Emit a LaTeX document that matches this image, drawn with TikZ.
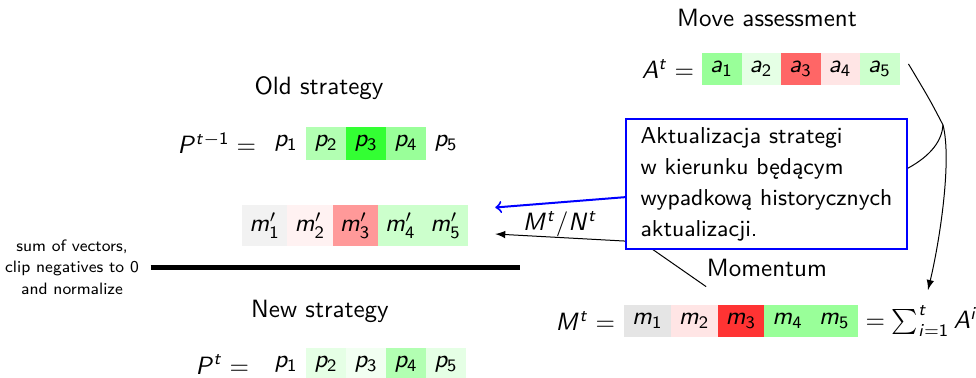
\documentclass[tikz,border=0pt]{standalone}
\usetikzlibrary{shapes,arrows,positioning,calc}
\renewcommand{\familydefault}{\sfdefault}
% sans serif math letters and digits
\DeclareSymbolFont{operators}{OT1}{cmss}{m}{n}
\SetSymbolFont{letters}{normal}{OT1}{cmss}{m}{sl}

\begin{document}
\begin{tikzpicture}[x=0.4pt, y=-0.4pt,
    acell/.style={minimum width=15.8pt, minimum height=12.8pt, inner sep=0pt, outer sep=0pt},
    pcell/.style={minimum width=16pt, minimum height=13.2pt, inner sep=0pt, outer sep=0pt},
    mpcell/.style={minimum width=18.1pt, minimum height=16.4pt, inner sep=0pt, outer sep=0pt},
    mcell/.style={minimum width=18.7pt, minimum height=12.8pt, inner sep=0pt, outer sep=0pt}]
    \useasboundingbox (0,0) rectangle (976,378);

    % move assessment
    \node (assess) at (767,18) {Move assessment};
    \node[anchor=east] (Aeq) at (703,69) {$A^t =$};
    \node[acell, fill=green!40, anchor=west] (a1) at (702,69) {$a_1$};
    \node[acell, fill=green!10, right=0pt of a1] (a2) {$a_2$};
    \node[acell, fill=red!60, right=0pt of a2] (a3) {$a_3$};
    \node[acell, fill=red!10, right=0pt of a3] (a4) {$a_4$};
    \node[acell, fill=green!20, right=0pt of a4] (a5) {$a_5$};

    % old strategy
    \node (old) at (319,88) {Old strategy};
    \node[anchor=east] (Poldeq) at (265,143.5) {$P^{t-1} =$};
    \node[pcell, anchor=west] (op1) at (266,143.5) {$p_1$};
    \node[pcell, fill=green!30, right=0pt of op1] (op2) {$p_2$};
    \node[pcell, fill=green!80, right=0pt of op2] (op3) {$p_3$};
    \node[pcell, fill=green!40, right=0pt of op3] (op4) {$p_4$};
    \node[pcell, right=0pt of op4] (op5) {$p_5$};

    % normalized momentum
    \node[mpcell, fill=gray!10, anchor=west] (mp1) at (242,225.5) {$m'_1$};
    \node[mpcell, fill=red!5, right=0pt of mp1] (mp2) {$m'_2$};
    \node[mpcell, fill=red!40, right=0pt of mp2] (mp3) {$m'_3$};
    \node[mpcell, fill=green!20, right=0pt of mp3] (mp4) {$m'_4$};
    \node[mpcell, fill=green!20, right=0pt of mp4] (mp5) {$m'_5$};

    \node[font=\fontsize{6.6}{8.6}\selectfont, align=center] (note) at (72,267) {sum of vectors,\\clip negatives to 0\\and normalize};
    \draw[line width=2pt] ($(note.east)+(3,1)$) -- (520,268);

    % new strategy
    \node (new) at (320,311) {New strategy};
    \node[anchor=east] (Pnew) at (258,364.5) {$P^t =$};
    \node[pcell, anchor=west] (np1) at (266,364.5) {$p_1$};
    \node[pcell, fill=green!10, right=0pt of np1] (np2) {$p_2$};
    \node[pcell, fill=green!5, right=0pt of np2] (np3) {$p_3$};
    \node[pcell, fill=green!30, right=0pt of np3] (np4) {$p_4$};
    \node[pcell, fill=green!10, right=0pt of np4] (np5) {$p_5$};

    % momentum
    \node (mom) at (767,268) {Momentum};
    \node[anchor=east] (Meq) at (624,321) {$M^t =$};
    \node[mcell, fill=gray!20, anchor=west] (m1) at (624,321) {$m_1$};
    \node[mcell, fill=red!10, right=0pt of m1] (m2) {$m_2$};
    \node[mcell, fill=red!80, right=0pt of m2] (m3) {$m_3$};
    \node[mcell, fill=green!40, right=0pt of m3] (m4) {$m_4$};
    \node[mcell, fill=green!40, right=0pt of m4] (m5) {$m_5$};
    \node[anchor=west, inner xsep=0pt] (sum) at (865,321) {$= \sum_{i=1}^t A^i$};

    \coordinate (bend) at (642,242);
    \draw[-latex] ($(mom.south west)+(8,1)$) -- (bend) -- ($(mp5.east)+(27,8.5)$);

    \node[draw=blue, thick, fill=white, anchor=north west, align=left,
          font=\fontsize{9.2}{12.4}\selectfont,
          minimum width=112.4pt, minimum height=52pt] (box) at (625,118)
          {Aktualizacja strategi\\w kierunku będącym\\wypadkową historycznych\\aktualizacji.};
    \draw[->, blue, thick] ($(box.west)+(0,13)$) -- node[below, black] {$M^t\mbox{/}N^t$} ($(mp5.east)+(27,-18)$);

    % assessment feeds the momentum
    \coordinate (split) at (943,125);
    \draw[-latex] ($(a5.east)+(9,-5)$) .. controls (930,100) .. (split)
        .. controls (952,160) and (940,240) .. (928,290);
    \draw ($(box.east)+(0,-16)$) .. controls (932,155) and (942,140) .. (split);
\end{tikzpicture}
\end{document}
